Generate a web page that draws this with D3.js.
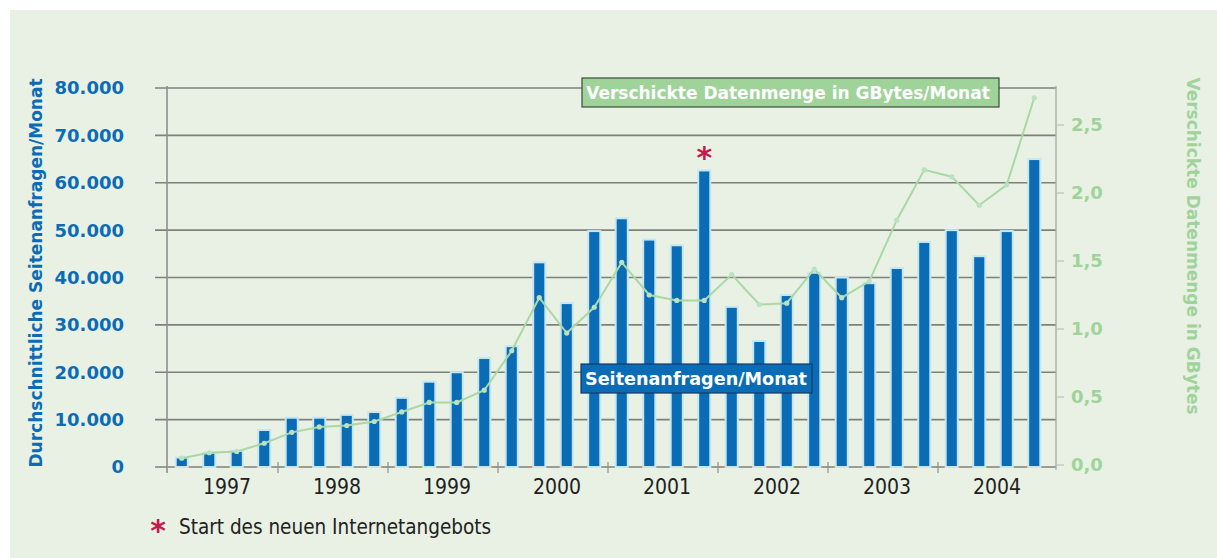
<!DOCTYPE html>
<html>
<head>
<meta charset="utf-8">
<script src="https://cdn.jsdelivr.net/npm/d3@7"></script>
<style>
  body { margin: 0; background: #ffffff; }
  svg { display: block; }
</style>
</head>
<body>
<svg id="chart" width="1217" height="558"></svg>
<script>
// DATA
const years = ["1997", "1998", "1999", "2000", "2001", "2002", "2003", "2004"];
const quarters = ["Q1", "Q2", "Q3", "Q4"];

// Seitenanfragen/Monat (bars), one per quarter
const requests = [
  2000, 3000, 3400, 7800,
  10400, 10400, 11000, 11600,
  14600, 18000, 20000, 23000,
  25500, 43200, 34600, 49800,
  52500, 48000, 46800, 62600,
  33800, 26600, 36300, 41000,
  40000, 38800, 42000, 47500,
  50000, 44500, 49800, 65000
];

// Verschickte Datenmenge in GBytes/Monat (line)
const gbytes = [
  0.05, 0.09, 0.10, 0.16,
  0.24, 0.28, 0.29, 0.32,
  0.39, 0.46, 0.46, 0.55,
  0.84, 1.23, 0.97, 1.16,
  1.49, 1.25, 1.21, 1.21,
  1.40, 1.18, 1.19, 1.44,
  1.23, 1.35, 1.80, 2.17,
  2.12, 1.91, 2.06, 2.70
];

const leftTicks = [0, 10000, 20000, 30000, 40000, 50000, 60000, 70000, 80000];
const rightTicks = [0, 0.5, 1.0, 1.5, 2.0, 2.5];
const markedIndex = 19; // Start des neuen Internetangebots

// SETUP
const blue = "#0b6cb6",
    green = "#9fd39a",
    bg = "#e9f1e5";

const svg = d3.select("#chart");

svg.append("rect")
    .attr("x", 10).attr("y", 10)
    .attr("width", 1207).attr("height", 548)
    .attr("fill", bg);

const periods = d3.cross(years, quarters).map(([y, q]) => `${y}-${q}`);

let xAxis = d3.scaleBand()
    .domain(periods)
    .range([168, 1048])
    .paddingInner(0.56)
    .paddingOuter(0.28);

let yLeft = d3.scaleLinear()
    .domain([0, 80000])
    .range([467, 88]);

let yRight = d3.scaleLinear()
    .domain([0, 2.5])
    .range([465, 125]);

let xYears = d3.scaleBand()
    .domain(years)
    .range([168, 1048]);

const fmtLeft = (d) => d === 0 ? "0" : d3.format(",")(d).replace(/,/g, ".");
const fmtRight = (d) => d3.format(".1f")(d).replace(".", ",");

// gridlines + left ticks
svg.append("g")
    .attr("id", "grid")
    .selectAll("line")
    .data(leftTicks)
    .enter()
    .append("line")
        .attr("x1", 155)
        .attr("x2", 1056)
        .attr("y1", (d) => yLeft(d))
        .attr("y2", (d) => yLeft(d))
        .attr("stroke", "#7d807b")
        .attr("stroke-width", 1.6);

// axis lines
svg.append("line")
    .attr("x1", 167).attr("x2", 167)
    .attr("y1", 86).attr("y2", 473)
    .attr("stroke", "#8d908b").attr("stroke-width", 1.6);
svg.append("line")
    .attr("x1", 1056).attr("x2", 1056)
    .attr("y1", 86).attr("y2", 470)
    .attr("stroke", "#a9aea6").attr("stroke-width", 1.4);

// right axis small ticks
svg.append("g")
    .selectAll("line")
    .data(rightTicks)
    .enter()
    .append("line")
        .attr("x1", 1056).attr("x2", 1064)
        .attr("y1", (d) => yRight(d))
        .attr("y2", (d) => yRight(d))
        .attr("stroke", "#b9c4b4")
        .attr("stroke-width", 1.2);

// year separator ticks on the baseline
svg.append("g")
    .selectAll("line")
    .data(years.slice(1))
    .enter()
    .append("line")
        .attr("x1", (d) => xYears(d))
        .attr("x2", (d) => xYears(d))
        .attr("y1", 462).attr("y2", 473)
        .attr("stroke", "#8d908b")
        .attr("stroke-width", 1.2);

// bars (with light halo)
svg.append("g")
    .attr("id", "bars")
    .selectAll("rect")
    .data(requests)
    .enter()
    .append("rect")
        .attr("x", (d, i) => xAxis(periods[i]))
        .attr("y", (d) => yLeft(d))
        .attr("width", xAxis.bandwidth())
        .attr("height", (d) => yLeft(0) - yLeft(d))
        .attr("fill", blue)
        .attr("stroke", "#c6e6f2")
        .attr("stroke-width", 2);

// line
const line = d3.line()
    .x((d, i) => xAxis(periods[i]) + xAxis.bandwidth() / 2)
    .y((d) => yRight(d));

svg.append("path")
    .datum(gbytes)
    .attr("d", line)
    .attr("fill", "none")
    .attr("stroke", "#a9d8a4")
    .attr("stroke-width", 2);

svg.append("g")
    .selectAll("circle")
    .data(gbytes)
    .enter()
    .append("circle")
        .attr("cx", (d, i) => xAxis(periods[i]) + xAxis.bandwidth() / 2)
        .attr("cy", (d) => yRight(d))
        .attr("r", 2.6)
        .attr("fill", "#b8e2c2");

// asterisk over the marked bar
svg.append("text")
    .attr("x", xAxis(periods[markedIndex]) + xAxis.bandwidth() / 2)
    .attr("y", yLeft(requests[markedIndex]) - 2)
    .attr("text-anchor", "middle")
    .attr("font-family", "DejaVu Sans")
    .attr("font-weight", "bold")
    .attr("font-size", 30)
    .attr("fill", "#c8184b")
    .text("*");

// left tick labels
svg.append("g")
    .selectAll("text")
    .data(leftTicks)
    .enter()
    .append("text")
        .attr("x", 124)
        .attr("y", (d) => yLeft(d))
        .attr("dy", "0.36em")
        .attr("text-anchor", "end")
        .attr("font-family", "DejaVu Sans")
        .attr("font-weight", "bold")
        .attr("font-size", 18)
        .attr("fill", blue)
        .text(fmtLeft);

// right tick labels
svg.append("g")
    .selectAll("text")
    .data(rightTicks)
    .enter()
    .append("text")
        .attr("x", 1071)
        .attr("y", (d) => yRight(d))
        .attr("dy", "0.36em")
        .attr("font-family", "DejaVu Sans")
        .attr("font-weight", "bold")
        .attr("font-size", 18)
        .attr("fill", green)
        .text(fmtRight);

// year labels
svg.append("g")
    .selectAll("text")
    .data(years)
    .enter()
    .append("text")
        .attr("x", (d) => xYears(d) + xYears.bandwidth() / 2 + 4)
        .attr("y", 494)
        .attr("text-anchor", "middle")
        .attr("font-family", "Liberation Sans Narrow, DejaVu Sans Condensed, sans-serif")
        .attr("font-size", 21)
        .attr("fill", "#222")
        .text((d) => d);

// axis titles
svg.append("text")
    .attr("transform", "translate(42, 273) rotate(-90)")
    .attr("text-anchor", "middle")
    .attr("font-family", "DejaVu Sans")
    .attr("font-weight", "bold")
    .attr("font-size", 17)
    .attr("fill", blue)
    .text("Durchschnittliche Seitenanfragen/Monat");

svg.append("text")
    .attr("transform", "translate(1187, 246) rotate(90)")
    .attr("text-anchor", "middle")
    .attr("font-family", "DejaVu Sans")
    .attr("font-weight", "bold")
    .attr("font-size", 17)
    .attr("fill", green)
    .text("Verschickte Datenmenge in GBytes");

// series labels
svg.append("rect")
    .attr("x", 582).attr("y", 78)
    .attr("width", 417).attr("height", 29)
    .attr("fill", green)
    .attr("stroke", "#3f4a3d").attr("stroke-width", 1.2);
svg.append("text")
    .attr("x", 788).attr("y", 93)
    .attr("dy", "0.36em")
    .attr("text-anchor", "middle")
    .attr("font-family", "DejaVu Sans")
    .attr("font-weight", "bold")
    .attr("font-size", 17)
    .attr("fill", "#fff")
    .text("Verschickte Datenmenge in GBytes/Monat");

svg.append("rect")
    .attr("x", 581).attr("y", 364)
    .attr("width", 231).attr("height", 29)
    .attr("fill", blue)
    .attr("stroke", "#163a63").attr("stroke-width", 1.2);
svg.append("text")
    .attr("x", 696).attr("y", 379)
    .attr("dy", "0.36em")
    .attr("text-anchor", "middle")
    .attr("font-family", "DejaVu Sans")
    .attr("font-weight", "bold")
    .attr("font-size", 17.6)
    .attr("fill", "#fff")
    .text("Seitenanfragen/Monat");

// footnote
svg.append("text")
    .attr("x", 158).attr("y", 541)
    .attr("text-anchor", "middle")
    .attr("font-family", "DejaVu Sans")
    .attr("font-weight", "bold")
    .attr("font-size", 30)
    .attr("fill", "#c8184b")
    .text("*");
svg.append("text")
    .attr("x", 179).attr("y", 534)
    .attr("font-family", "Liberation Sans Narrow, DejaVu Sans Condensed, sans-serif")
    .attr("font-size", 20.5)
    .attr("fill", "#222")
    .text("Start des neuen Internetangebots");
</script>
</body>
</html>
